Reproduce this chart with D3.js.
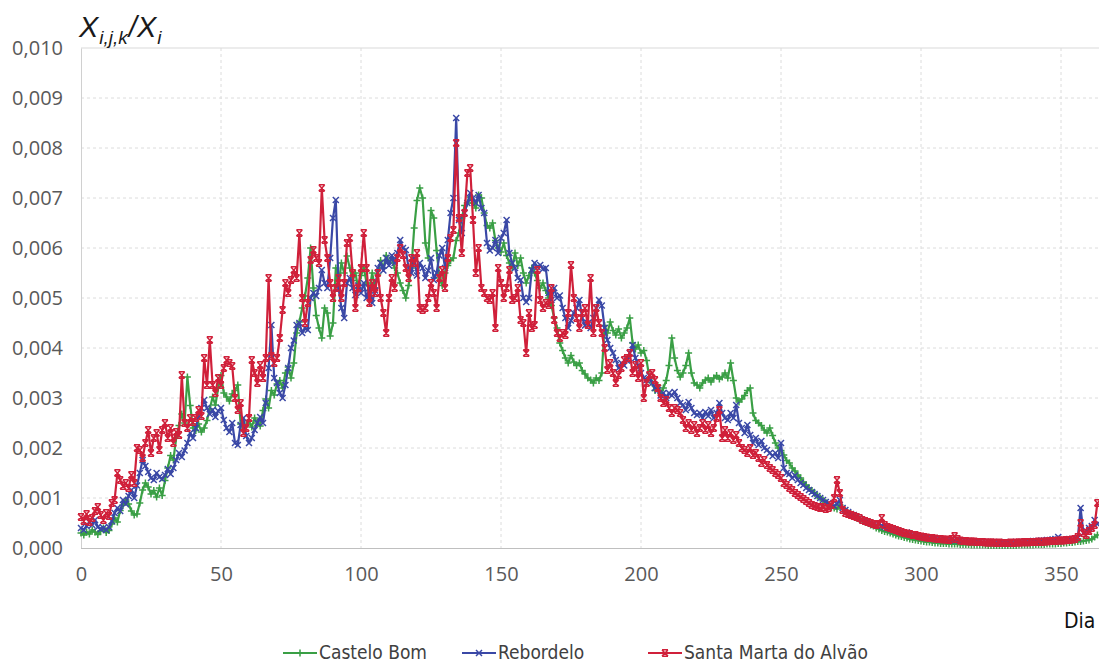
<!DOCTYPE html>
<html>
<head>
<meta charset="utf-8">
<script src="https://cdn.jsdelivr.net/npm/d3@7"></script>
<style>
  body { margin: 0; background: #fff; }
  svg { display: block; }
</style>
</head>
<body>
<div id="chart"></div>
<script>
// values in units of 1e-4 (X_ijk / X_i), one per day starting at day 0
const castelo = [
  3.0, 2.6, 3.2, 2.8, 3.6, 3.2, 2.7, 3.4, 4.0, 3.1, 3.5,
  4.8, 6.0, 5.2, 7.5, 8.6, 9.6, 8.8, 7.4, 6.6, 6.8,
  9.0, 11.6, 13.0, 12.2, 10.8, 11.5, 10.2, 12.0, 10.5, 13.5,
  16.0, 18.5, 17.6, 22.0, 24.5, 26.8, 25.0, 34.2, 28.5, 24.0,
  23.5, 24.8, 23.2, 24.0, 25.5, 27.8, 30.2, 28.6, 32.0, 34.5,
  31.0, 30.2, 29.4, 30.8, 31.5, 32.6, 24.8, 24.0, 24.6, 25.4,
  24.2, 26.0, 25.0, 24.4, 27.5, 29.8, 28.0, 31.5, 30.6, 32.8,
  33.5, 32.0, 35.0, 36.2, 34.0, 37.0, 43.0, 45.2, 48.0, 50.4,
  54.0, 60.0, 52.0, 46.5, 44.0, 42.0, 48.0, 47.0, 42.4, 45.0,
  56.0, 52.5, 57.0, 55.0, 58.4, 56.0, 53.5, 55.0, 52.0, 54.5,
  56.0, 53.0, 51.5, 55.0, 52.0, 54.8, 57.5, 56.0, 58.5, 57.0,
  58.0, 56.0, 55.0, 53.0, 51.5, 50.0, 52.5, 56.0, 64.0, 69.5,
  72.0, 70.0, 61.0, 58.0, 67.5, 66.0, 59.5, 54.0, 52.5, 55.0,
  56.5, 57.5, 58.0, 61.5, 63.0, 66.0, 68.5, 69.0, 70.2, 69.0,
  68.0, 70.6, 70.0, 67.0, 64.5, 64.0, 65.0, 61.5, 60.0, 59.2,
  61.0, 58.5, 57.0, 56.0, 59.0, 56.5, 58.0, 55.0, 53.0, 54.5,
  56.0, 55.0, 53.5, 52.0, 53.0, 51.5, 50.0, 48.5, 46.0, 44.0,
  41.0, 39.5, 38.0, 37.0, 38.5, 37.2, 36.5, 37.0, 35.5, 34.8,
  34.0, 33.6, 33.0, 34.0, 33.5, 35.0, 44.5, 43.0, 45.2, 43.5,
  42.6, 43.8, 42.0, 43.0, 44.0, 46.0, 41.0, 39.8, 40.6, 39.0,
  39.5, 37.5, 34.0, 33.0, 31.5, 32.5, 31.0, 32.0, 33.5, 36.5,
  42.0, 38.0, 35.5, 34.2, 35.0, 36.5, 39.0, 35.0, 33.0, 32.6,
  32.0, 33.0, 33.6, 34.0, 33.2, 34.0, 34.5, 33.8, 34.2, 35.0,
  34.0, 37.0, 33.5, 30.0, 29.2, 29.8, 30.5, 31.5, 32.0, 27.0,
  25.5, 25.0, 24.5, 23.6, 23.0, 24.0, 22.5, 21.0, 20.0, 19.5,
  18.6, 17.5, 17.0, 16.0, 15.4, 14.6, 14.0, 13.2, 12.6, 12.0,
  11.5, 11.0, 10.4, 10.0, 9.6, 9.0, 8.6, 8.2, 8.0, 7.8,
  8.6, 8.0, 7.4, 7.0, 6.8, 6.4, 6.0, 5.8, 5.5, 5.2,
  5.0, 4.6, 4.4, 4.0, 3.8, 3.5, 3.3, 3.2, 3.0, 2.8,
  2.6, 2.4, 2.3, 2.1, 2.0, 1.8, 1.7, 1.6, 1.5, 1.4,
  1.3, 1.2, 1.2, 1.1, 1.0, 1.0, 0.9, 0.9, 0.9, 0.8,
  0.8, 0.8, 0.8, 0.7, 0.7, 0.7, 0.7, 0.6, 0.6, 0.6,
  0.6, 0.6, 0.6, 0.5, 0.5, 0.5, 0.5, 0.5, 0.5, 0.5,
  0.5, 0.5, 0.5, 0.5, 0.6, 0.6, 0.6, 0.6, 0.6, 0.6,
  0.7, 0.7, 0.7, 0.7, 0.8, 0.8, 0.8, 0.8, 0.9, 0.9,
  1.0, 1.0, 1.1, 1.1, 1.2, 1.3, 1.3, 1.4, 1.5, 1.6,
  1.8, 2.2, 2.6
];

const rebordelo = [
  4.0, 3.6, 4.4, 5.2, 4.6, 5.6, 4.2, 3.8, 4.0, 3.6, 4.2,
  5.4, 7.0, 8.0, 7.4, 9.6, 8.8, 10.4, 11.6, 10.0, 12.5,
  15.0, 17.6, 16.4, 15.2, 14.0, 13.6, 15.0, 14.2, 13.8, 14.6,
  15.8, 14.8, 16.0, 17.6, 19.0, 18.2, 19.5, 21.0, 23.0, 22.0,
  24.0, 26.5, 28.0, 29.6, 28.0, 26.8, 27.6, 26.2, 27.4, 28.0,
  25.6, 24.0, 23.2, 25.0, 21.0, 20.6, 24.6, 26.0, 22.4, 21.0,
  22.0, 23.6, 25.0, 26.2, 25.0, 29.0, 36.0, 44.6, 34.0, 33.0,
  31.0, 30.0, 32.6, 36.0, 40.0, 41.5, 44.6, 45.0, 43.0, 44.0,
  43.6, 50.0, 51.0, 50.4, 52.0, 55.6, 53.0, 52.0, 58.0, 66.0,
  69.6, 52.0, 48.0, 46.0, 53.0, 54.0, 52.0, 50.6, 52.5, 51.0,
  53.0, 50.0, 52.0, 49.0, 51.5, 56.0, 57.0, 55.5, 58.0, 56.5,
  58.5, 57.0, 59.0, 61.6, 60.0, 59.6, 56.0, 55.0, 58.0, 54.5,
  57.0, 56.0, 54.0, 55.5, 58.0, 53.6, 55.0, 58.5, 60.0, 56.0,
  61.6, 67.0, 70.0, 86.0, 65.6, 63.0, 67.0, 69.0, 71.0, 70.0,
  69.0, 70.6, 68.0, 67.0, 61.0, 59.5, 60.0, 61.6, 59.0, 62.0,
  63.0, 65.6, 59.0, 57.0, 56.0, 54.0, 53.6, 50.0, 49.2, 50.0,
  55.6, 57.0, 56.2, 56.6, 55.8, 56.0, 51.0, 49.6, 52.0, 50.0,
  50.5, 48.0, 46.0, 44.0, 45.5, 47.0, 48.0, 49.6, 46.0, 44.5,
  45.0, 44.0, 46.0, 48.0, 49.6, 48.5, 44.0, 41.6, 40.0, 39.0,
  37.6, 36.0, 37.0, 36.5, 37.5, 39.0, 40.6, 38.0, 36.5, 35.0,
  34.0, 33.6, 34.5, 33.0, 32.0, 31.6, 30.5, 31.0, 30.0, 31.0,
  30.5, 31.2, 30.0, 29.0, 28.6, 27.6, 29.2, 28.0, 27.0, 26.6,
  27.0, 26.0, 27.2, 26.4, 27.6, 26.0, 27.0, 29.0, 27.0, 26.0,
  25.6, 27.0, 26.0, 28.6, 25.0, 24.0, 23.0, 24.6, 22.6, 21.0,
  22.0, 20.6, 21.4, 20.0, 19.6, 19.0, 18.4, 19.0, 18.0, 21.0,
  16.0, 15.0, 14.8, 14.0, 14.5, 13.6, 13.0, 12.6, 12.0, 11.6,
  11.2, 10.8, 10.4, 10.0, 9.6, 9.2, 9.0, 8.6, 8.4, 8.8,
  9.6, 8.0, 7.6, 7.2, 6.8, 6.6, 6.2, 6.0, 5.6, 5.4,
  5.2, 5.0, 4.8, 4.6, 4.8, 4.4, 4.2, 4.0, 3.8, 3.6,
  3.5, 3.4, 3.2, 3.0, 3.1, 2.8, 2.6, 2.5, 2.4, 2.2,
  2.2, 2.0, 2.0, 1.9, 1.8, 1.8, 1.7, 1.7, 1.6, 1.6,
  1.6, 1.5, 1.6, 1.5, 1.4, 1.4, 1.4, 1.3, 1.3, 1.3,
  1.3, 1.2, 1.2, 1.2, 1.2, 1.1, 1.1, 1.2, 1.1, 1.1,
  1.1, 1.2, 1.1, 1.2, 1.2, 1.2, 1.3, 1.3, 1.3, 1.4,
  1.4, 1.4, 1.5, 1.5, 1.6, 1.6, 1.7, 1.8, 2.2, 1.7,
  1.6, 1.7, 1.8, 1.8, 1.9, 2.0, 8.0, 3.0, 3.4, 4.0,
  4.4, 5.6, 4.8
];

const santaMarta = [
  6.2, 5.4, 6.8, 5.2, 6.0, 7.4, 8.2, 6.6, 5.6, 7.0, 6.4,
  9.0, 9.6, 15.0, 13.6, 12.4, 13.0, 12.0, 14.6, 13.0, 20.0,
  19.6, 18.0, 21.0, 23.6, 19.0, 22.0, 23.0, 19.6, 23.6, 25.0,
  22.0, 24.0, 21.0, 23.2, 22.6, 34.6, 25.0, 24.0, 26.0, 25.2,
  26.0, 27.6, 26.4, 38.0, 32.6, 41.6, 32.6, 31.0, 34.0, 32.6,
  36.0, 37.6, 37.0, 36.4, 30.0, 27.6, 29.0, 23.0, 24.0, 26.0,
  37.6, 35.0, 33.0, 36.6, 34.0, 38.0, 54.0, 38.4, 37.0, 38.0,
  42.0, 47.6, 53.0, 51.0, 53.6, 55.6, 54.0, 63.0, 50.0, 45.0,
  49.0, 57.6, 59.6, 58.0, 57.0, 72.0, 61.6, 58.0, 53.0, 50.0,
  52.0, 54.0, 50.0, 53.0, 61.0, 62.0, 55.0, 48.0, 52.0, 56.0,
  63.0, 56.0, 49.0, 53.0, 51.0, 55.0, 50.0, 47.0, 43.0, 50.0,
  54.0, 52.0, 58.0, 60.0, 58.6, 56.0, 54.0, 58.0, 57.0, 59.0,
  48.0, 47.6, 48.0, 50.0, 53.0, 51.0, 48.0, 54.0, 55.6, 52.0,
  58.0, 62.0, 63.6, 81.0, 66.0, 59.0, 67.0, 75.0, 76.0, 65.6,
  55.0, 60.0, 52.0, 51.0, 50.0, 49.6, 51.0, 44.0, 56.0, 53.0,
  50.0, 52.0, 55.6, 49.6, 50.0, 52.0, 45.6, 45.0, 39.0, 47.0,
  44.0, 44.6, 55.6, 49.6, 48.0, 49.0, 48.6, 52.0, 45.6, 43.0,
  42.0, 43.0, 42.6, 47.0, 56.6, 50.0, 46.0, 44.0, 47.0, 48.0,
  44.6, 54.0, 43.0, 48.0, 45.0, 43.0, 40.0, 35.6, 37.0, 35.0,
  33.0, 34.6, 36.0, 37.6, 38.0, 39.0, 35.0, 36.6, 34.0, 37.0,
  30.0, 33.0, 34.6, 35.0, 33.6, 32.0, 30.0, 29.0, 29.6, 28.0,
  27.0, 28.0, 27.6, 27.0, 25.6, 24.0, 25.0, 23.6, 24.6, 23.0,
  24.0, 25.0, 23.6, 24.6, 23.0, 24.0, 26.0, 27.6, 22.0, 23.6,
  22.0, 23.0, 21.6, 22.6, 21.0, 20.0, 19.6, 19.0, 20.0, 18.6,
  19.0, 18.0, 17.0, 17.6, 16.6, 16.0, 15.6, 15.0, 14.6, 14.0,
  13.0, 12.6, 12.0, 11.6, 11.0, 10.6, 10.2, 9.8, 9.4, 9.0,
  8.6, 8.4, 8.2, 8.0, 8.2, 7.8, 8.0, 8.6, 10.0, 13.6,
  11.0, 7.6, 7.0, 6.8, 6.6, 6.4, 6.2, 6.0, 5.6, 5.4,
  5.2, 5.0, 4.8, 4.6, 4.8, 6.0, 4.6, 4.2, 4.0, 3.8,
  3.6, 3.4, 3.2, 3.0, 2.9, 2.8, 2.6, 2.6, 2.4, 2.3,
  2.2, 2.1, 2.0, 2.0, 1.9, 1.8, 1.8, 1.7, 1.7, 1.6,
  1.8, 2.4, 1.8, 1.5, 1.4, 1.4, 1.3, 1.3, 1.3, 1.2,
  1.2, 1.2, 1.1, 1.1, 1.1, 1.1, 1.0, 1.1, 1.0, 1.0,
  1.0, 1.1, 1.0, 1.1, 1.1, 1.1, 1.2, 1.1, 1.2, 1.2,
  1.2, 1.3, 1.2, 1.3, 1.3, 1.4, 1.4, 1.4, 1.5, 1.5,
  1.5, 1.6, 1.6, 1.7, 1.8, 2.2, 5.0, 3.0, 2.6, 3.4,
  4.0, 4.6, 9.0
];

const seriesNames = ["Castelo Bom", "Rebordelo", "Santa Marta do Alvão"];
const seriesColors = ["#3a9f45", "#3a48a6", "#d0203a"];
const xTicks = [0, 50, 100, 150, 200, 250, 300, 350];
const yTicks = [0, 0.001, 0.002, 0.003, 0.004, 0.005, 0.006, 0.007, 0.008, 0.009, 0.010];

const width = 1099, height = 666;
const svg = d3.select("#chart").append("svg")
  .attr("width", width)
  .attr("height", height);

const x = d3.scaleLinear().domain([0, 365]).range([81, 1103]);
const y = d3.scaleLinear().domain([0, 0.010]).range([548, 48]);

const fmt = v => v.toFixed(3).replace(".", ",");

// gridlines
svg.append("g").selectAll("line.h")
  .data(yTicks.filter(v => v > 0 && v < 0.010)).enter().append("line")
  .attr("x1", x(0)).attr("x2", width)
  .attr("y1", d => y(d)).attr("y2", d => y(d))
  .attr("stroke", "#dcdcdc").attr("stroke-dasharray", "3,3");
svg.append("g").selectAll("line.v")
  .data(xTicks.filter(v => v > 0)).enter().append("line")
  .attr("x1", d => x(d)).attr("x2", d => x(d))
  .attr("y1", y(0.010)).attr("y2", y(0))
  .attr("stroke", "#dcdcdc").attr("stroke-dasharray", "3,3");
svg.append("line")
  .attr("x1", x(0)).attr("x2", width)
  .attr("y1", y(0.010)).attr("y2", y(0.010))
  .attr("stroke", "#d9d9d9");

// axes
const yAxis = svg.append("g")
  .attr("transform", `translate(${x(0)},0)`)
  .call(d3.axisLeft(y).tickValues(yTicks).tickFormat(fmt).tickSize(0).tickPadding(18));
const xAxis = svg.append("g")
  .attr("transform", `translate(0,${y(0)})`)
  .call(d3.axisBottom(x).tickValues(xTicks).tickFormat(d3.format("d")).tickSize(0).tickPadding(19));
yAxis.select(".domain").attr("stroke", "#d0d0d0");
xAxis.select(".domain").attr("stroke", "#bfbfbf").attr("d", `M${x(0)},0.5H${width}`);
svg.selectAll(".tick text")
  .attr("fill", "#595959")
  .style("font-family", "'Open Sans', sans-serif")
  .style("font-size", "20px");

// series
const symbols = [
  "M-3.5,0H3.5M0,-3.5V3.5",
  "M-3,-3L3,3M3,-3L-3,3",
  "M-3,-3L3,3M3,-3L-3,3M-3,-3.2H3M-3,3.2H3"
];
const line = d3.line().x((d, i) => x(i)).y(d => y(d / 10000));

[castelo, rebordelo, santaMarta].forEach((data, k) => {
  const g = svg.append("g");
  g.append("path")
    .datum(data)
    .attr("d", line)
    .attr("fill", "none")
    .attr("stroke", seriesColors[k])
    .attr("stroke-width", 2.2)
    .attr("stroke-linejoin", "round");
  g.selectAll("path.m")
    .data(data).enter().append("path")
    .attr("transform", (d, i) => `translate(${x(i)},${y(d / 10000)})`)
    .attr("d", symbols[k])
    .attr("fill", "none")
    .attr("stroke", seriesColors[k])
    .attr("stroke-width", 1.5);
});

// axis titles
const yt = svg.append("text")
  .attr("x", 79).attr("y", 37)
  .style("font-family", "'Liberation Sans', Arial, sans-serif")
  .style("font-style", "italic")
  .attr("fill", "#1a1a1a");
yt.append("tspan").style("font-size", "29px").text("X");
yt.append("tspan").style("font-size", "19px").attr("dx", 1).attr("dy", 7).text("i,j,k");
yt.append("tspan").style("font-size", "29px").attr("dx", 1).attr("dy", -7).text("/X");
yt.append("tspan").style("font-size", "19px").attr("dx", 1).attr("dy", 7).text("i");

svg.append("text")
  .attr("x", 1064).attr("y", 628)
  .style("font-family", "'DejaVu Sans Condensed', 'DejaVu Sans', sans-serif")
  .style("font-size", "21px")
  .attr("fill", "#111")
  .text("Dia");

// legend
const legendX = [283, 462, 648];
const legend = svg.append("g");
seriesNames.forEach((name, k) => {
  const lx = legendX[k], ly = 653;
  legend.append("line")
    .attr("x1", lx).attr("x2", lx + 34)
    .attr("y1", ly).attr("y2", ly)
    .attr("stroke", seriesColors[k]).attr("stroke-width", 2.2);
  legend.append("path")
    .attr("transform", `translate(${lx + 17},${ly})`)
    .attr("d", symbols[k])
    .attr("fill", "none")
    .attr("stroke", seriesColors[k]).attr("stroke-width", 1.5);
  legend.append("text")
    .attr("x", lx + 36).attr("y", ly + 6)
    .style("font-family", "'DejaVu Sans Condensed', 'DejaVu Sans', sans-serif")
    .style("font-size", "19px")
    .attr("fill", "#404040")
    .text(name);
});
</script>
</body>
</html>
